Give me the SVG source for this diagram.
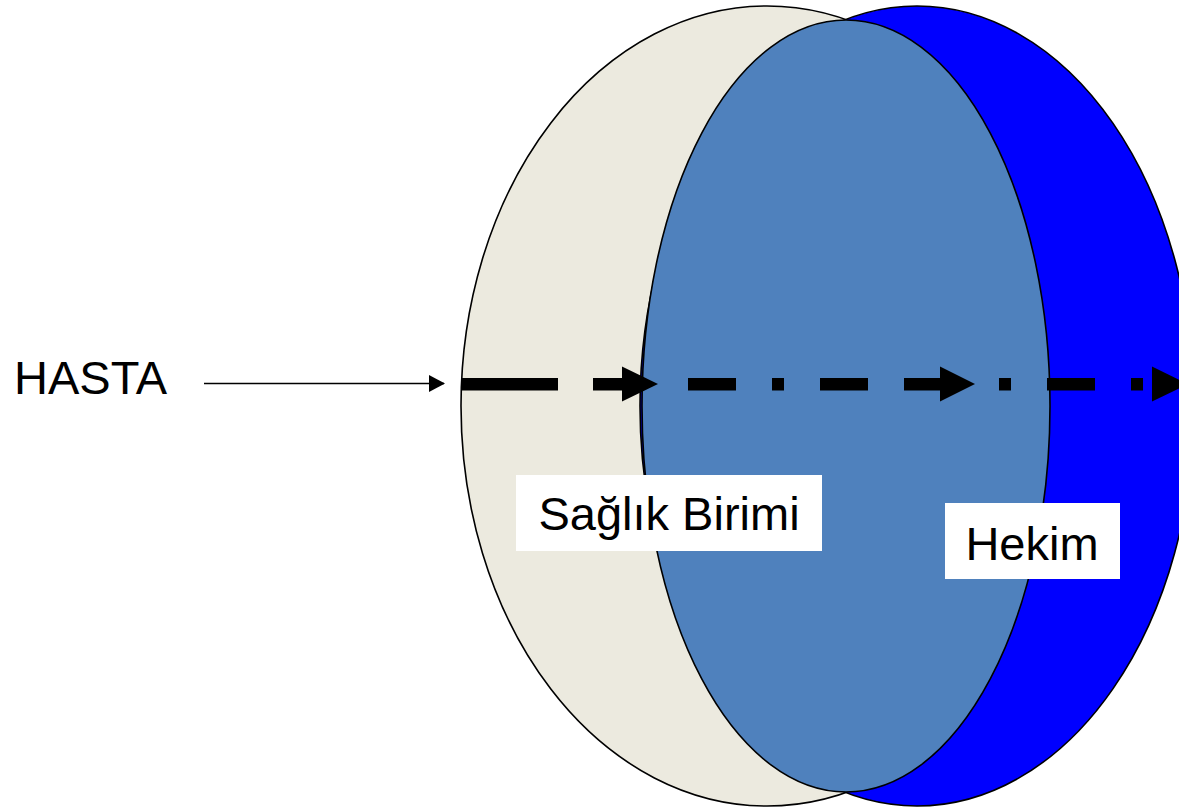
<svg xmlns="http://www.w3.org/2000/svg" width="1179" height="807" viewBox="0 0 1179 807">
<style>
.el{stroke:#000;stroke-width:1.6}
.lbl{font-family:"Liberation Sans",Arial,sans-serif;font-size:47px;fill:#000}
.box{fill:#fff}
.seg{fill:#000}
</style>
<defs>
<marker id="thin" markerWidth="16" markerHeight="17" refX="15" refY="8.5" orient="auto" markerUnits="userSpaceOnUse">
<path d="M0,0 L16,8.5 L0,17 Z" fill="#000"/>
</marker>
</defs>
<rect width="1179" height="807" fill="#fff"/>
<g id="saglik-birimi-ellipse">
<ellipse class="el" cx="767" cy="406" rx="306" ry="400" fill="#ECEADF"/>
</g>
<g id="hekim-ellipse">
<ellipse class="el" cx="917" cy="406" rx="277" ry="400" fill="#0000FF"/>
</g>
<g id="overlap-ellipse">
<ellipse class="el" cx="846" cy="406" rx="204" ry="386" fill="#4F81BD"/>
</g>
<g id="hasta">
<text class="lbl" x="14" y="394">HASTA</text>
</g>
<g id="connectors">
<line x1="204" y1="383.5" x2="444" y2="383.5" stroke="#000" stroke-width="1.6" marker-end="url(#thin)"/>
<g class="seg">
<rect x="462" y="378" width="96" height="12.5"/>
<rect x="593" y="378" width="30" height="12.5"/>
<polygon points="622,366.5 658,384 622,401.5"/>
<rect x="688" y="378" width="48" height="12.5"/>
<rect x="772" y="378" width="12" height="12.5"/>
<rect x="820" y="378" width="48" height="12.5"/>
<rect x="904" y="378" width="37" height="12.5"/>
<polygon points="940,366.5 975,384 940,401.5"/>
<rect x="999" y="378" width="12" height="12.5"/>
<rect x="1047" y="378" width="48" height="12.5"/>
<rect x="1131" y="378" width="12" height="12.5"/>
<polygon points="1152,366.5 1188,384 1152,401.5"/>
</g>
</g>
<g id="label-saglik">
<rect class="box" x="516" y="475" width="306" height="76"/>
<text class="lbl" x="669" y="530" text-anchor="middle">Sağlık Birimi</text>
</g>
<g id="label-hekim">
<rect class="box" x="945" y="503" width="175" height="76"/>
<text class="lbl" x="1032" y="560" text-anchor="middle">Hekim</text>
</g>
</svg>
